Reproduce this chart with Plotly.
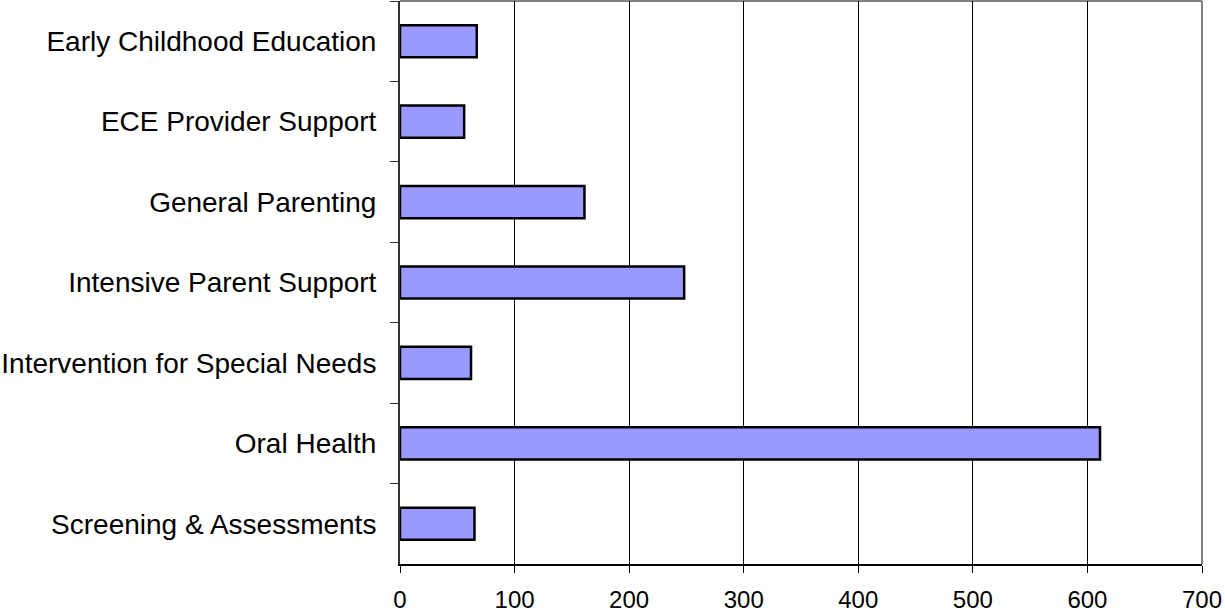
import plotly.graph_objects as go

categories = [
    "Early Childhood Education",
    "ECE Provider Support",
    "General Parenting",
    "Intensive Parent Support",
    "Intervention for Special Needs",
    "Oral Health",
    "Screening & Assessments",
]
values = [67, 56, 161, 248, 62, 611, 65]
x_ticks = [0, 100, 200, 300, 400, 500, 600, 700]

fig = go.Figure()
fig.add_trace(go.Bar(
    x=values,
    y=categories,
    orientation="h",
    width=0.4,
    marker=dict(color="#9999FF", line=dict(color="#000000", width=2.5)),
))

fig.update_layout(
    width=1225,
    height=613,
    margin=dict(l=400, r=23, t=1, b=49),
    paper_bgcolor="white",
    plot_bgcolor="white",
    showlegend=False,
    font=dict(family="Liberation Sans, Arial, sans-serif", color="black"),
    xaxis=dict(
        range=[0, 700],
        tickvals=x_ticks,
        ticktext=[str(v) for v in x_ticks],
        ticks="outside",
        ticklen=7,
        tickcolor="black",
        ticklabelstandoff=6,
        automargin=False,
        showgrid=True,
        gridcolor="black",
        gridwidth=1,
        showline=True,
        linecolor="black",
        linewidth=2,
        zeroline=False,
        tickfont=dict(size=24),
    ),
    yaxis=dict(
        type="category",
        categoryorder="array",
        categoryarray=categories,
        autorange="reversed",
        tickson="boundaries",
        ticks="outside",
        ticklen=8,
        tickcolor="#333333",
        ticklabelstandoff=16,
        automargin=False,
        showline=True,
        linecolor="#333333",
        linewidth=2,
        showgrid=False,
        tickfont=dict(size=28),
    ),
    shapes=[
        dict(type="line", xref="paper", yref="paper", x0=0, x1=1, y0=1, y1=1,
             line=dict(color="#808080", width=2), layer="below"),
        dict(type="line", xref="paper", yref="paper", x0=1, x1=1, y0=0, y1=1,
             line=dict(color="#808080", width=2), layer="below"),
    ],
)

fig.write_html("out.html")
